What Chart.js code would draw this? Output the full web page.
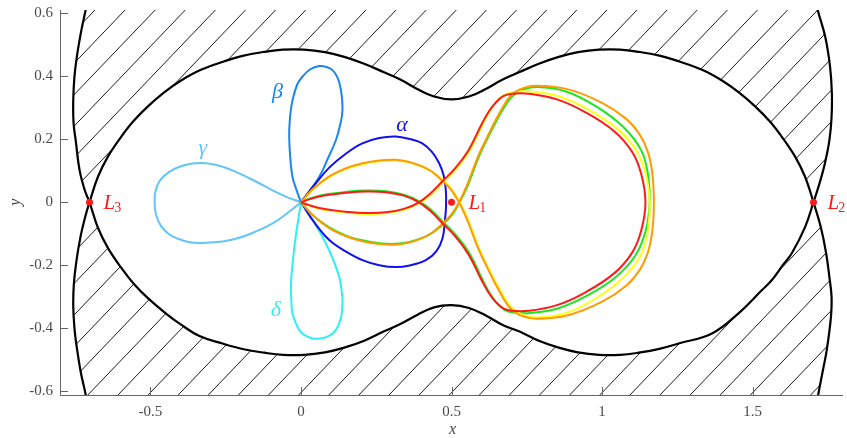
<!DOCTYPE html>
<html>
<head>
<meta charset="utf-8">
<script src="https://cdn.jsdelivr.net/npm/chart.js@4.4.0/dist/chart.umd.min.js"></script>
<style>
  html, body { margin: 0; padding: 0; background: #fff; }
  #wrap { width: 847px; height: 438px; }
</style>
</head>
<body>
<div id="wrap"><canvas id="hill"></canvas></div>
<script>
// axis ticks
const xTicks = [-0.5, 0, 0.5, 1, 1.5];
const yTicks = [-0.6, -0.4, -0.2, 0, 0.2, 0.4, 0.6];

// zero-velocity curve, inner part (L3 -> L2)
const innerUpper = [[-0.702,0],[-0.674,0.081],[-0.641,0.145],[-0.597,0.208],[-0.558,0.256],[-0.509,0.304],[-0.453,0.350],[-0.398,0.387],[-0.332,0.421],[-0.254,0.448],[-0.19,0.466],[-0.122,0.478],[-0.06,0.485],[0.01,0.485],[0.08,0.477],[0.144,0.462],[0.21,0.44],[0.276,0.413],[0.33,0.39],[0.386,0.36],[0.442,0.336],[0.5,0.327],[0.558,0.336],[0.614,0.36],[0.67,0.39],[0.724,0.413],[0.79,0.44],[0.856,0.462],[0.92,0.477],[0.99,0.485],[1.06,0.485],[1.122,0.478],[1.19,0.466],[1.254,0.448],[1.332,0.421],[1.398,0.387],[1.453,0.35],[1.509,0.304],[1.558,0.256],[1.597,0.208],[1.641,0.145],[1.674,0.081],[1.702,0]];
const innerLower = [[-0.702,0],[-0.674,-0.081],[-0.641,-0.145],[-0.597,-0.208],[-0.556,-0.258],[-0.509,-0.304],[-0.450,-0.352],[-0.398,-0.389],[-0.337,-0.425],[-0.26,-0.449],[-0.19,-0.467],[-0.122,-0.478],[-0.06,-0.485],[0.01,-0.485],[0.08,-0.477],[0.144,-0.462],[0.21,-0.44],[0.276,-0.41],[0.33,-0.387],[0.386,-0.358],[0.442,-0.334],[0.5,-0.327],[0.558,-0.336],[0.614,-0.36],[0.67,-0.39],[0.724,-0.41],[0.79,-0.44],[0.856,-0.462],[0.92,-0.477],[0.99,-0.485],[1.06,-0.485],[1.122,-0.478],[1.19,-0.466],[1.254,-0.449],[1.365,-0.417],[1.453,-0.353],[1.531,-0.279],[1.564,-0.247],[1.600,-0.2],[1.630,-0.162],[1.674,-0.079],[1.702,0]];

// zero-velocity curve, outer part (from L3 / L2 out past the frame)
const outerLeftTop = [[-0.702,0],[-0.718,0.039],[-0.735,0.102],[-0.748,0.198],[-0.755,0.252],[-0.756,0.325],[-0.752,0.399],[-0.744,0.463],[-0.729,0.547],[-0.715,0.611],[-0.711,0.635]];
const outerLeftBottom = [[-0.702,0],[-0.716,-0.045],[-0.732,-0.11],[-0.746,-0.19],[-0.754,-0.26],[-0.756,-0.33],[-0.752,-0.4],[-0.744,-0.463],[-0.731,-0.54],[-0.715,-0.61],[-0.711,-0.635]];
const outerRightTop = [[1.702,0],[1.722,0.06],[1.74,0.124],[1.755,0.198],[1.762,0.27],[1.763,0.347],[1.757,0.431],[1.741,0.526],[1.716,0.611],[1.712,0.635]];
const outerRightBottom = [[1.702,0],[1.726,-0.078],[1.744,-0.162],[1.756,-0.247],[1.762,-0.3],[1.76,-0.364],[1.746,-0.47],[1.732,-0.54],[1.718,-0.61],[1.714,-0.635]];

// petal orbits through the first primary
const orbitAlpha = [[0,0],[0.045,0.055],[0.094,0.11],[0.15,0.155],[0.204,0.187],[0.26,0.204],[0.315,0.209],[0.365,0.2],[0.403,0.187],[0.435,0.16],[0.459,0.124],[0.474,0.085],[0.481,0.04],[0.482,-0.01],[0.478,-0.06],[0.47,-0.115],[0.45,-0.155],[0.415,-0.184],[0.365,-0.2],[0.315,-0.206],[0.26,-0.2],[0.204,-0.184],[0.15,-0.157],[0.094,-0.12],[0.045,-0.065],[0,0]];
const orbitBeta = [[0,0],[-0.015,0.04],[-0.028,0.081],[-0.036,0.15],[-0.039,0.219],[-0.035,0.28],[-0.028,0.324],[-0.012,0.375],[0.005,0.399],[0.03,0.422],[0.061,0.433],[0.085,0.43],[0.105,0.42],[0.122,0.395],[0.133,0.356],[0.138,0.292],[0.13,0.245],[0.116,0.197],[0.09,0.14],[0.061,0.081],[0.03,0.038],[0,0]];
const orbitGamma = [[0,0],[-0.05,0.018],[-0.094,0.038],[-0.15,0.066],[-0.205,0.092],[-0.26,0.113],[-0.315,0.124],[-0.36,0.123],[-0.403,0.113],[-0.44,0.095],[-0.469,0.068],[-0.483,0.035],[-0.486,0],[-0.481,-0.04],[-0.465,-0.075],[-0.44,-0.1],[-0.415,-0.113],[-0.37,-0.127],[-0.315,-0.129],[-0.26,-0.125],[-0.205,-0.113],[-0.15,-0.093],[-0.094,-0.067],[-0.05,-0.038],[0,0]];
const orbitDelta = [[0,0],[-0.008,-0.05],[-0.016,-0.099],[-0.026,-0.18],[-0.033,-0.258],[-0.032,-0.31],[-0.028,-0.354],[-0.012,-0.395],[0.005,-0.418],[0.035,-0.432],[0.066,-0.433],[0.095,-0.424],[0.116,-0.406],[0.132,-0.37],[0.138,-0.321],[0.135,-0.28],[0.127,-0.237],[0.108,-0.185],[0.083,-0.131],[0.045,-0.065],[0,0]];

// orbits passing the L1 neck
const orbitRed = [[0,0],[0.03,0.01],[0.061,0.018],[0.105,0.025],[0.149,0.03],[0.215,0.034],[0.282,0.032],[0.342,0.021],[0.392,0],[0.43,-0.028],[0.465,-0.062],[0.514,-0.11],[0.558,-0.168],[0.6,-0.248],[0.625,-0.29],[0.648,-0.318],[0.672,-0.337],[0.7,-0.345],[0.757,-0.345],[0.85,-0.327],[0.945,-0.286],[1.04,-0.226],[1.1,-0.16],[1.13,-0.09],[1.144,0],[1.13,0.09],[1.1,0.16],[1.04,0.226],[0.945,0.286],[0.85,0.327],[0.757,0.345],[0.7,0.345],[0.672,0.337],[0.648,0.318],[0.625,0.29],[0.6,0.248],[0.558,0.168],[0.514,0.11],[0.465,0.062],[0.43,0.028],[0.392,0],[0.342,-0.021],[0.282,-0.032],[0.215,-0.034],[0.149,-0.03],[0.105,-0.025],[0.061,-0.018],[0.03,-0.01],[0,0]];
const orbitOrange = [[0,0],[0.04,0.042],[0.094,0.082],[0.15,0.108],[0.204,0.124],[0.26,0.133],[0.315,0.135],[0.36,0.128],[0.403,0.114],[0.435,0.097],[0.462,0.075],[0.5,0.038],[0.525,0],[0.545,-0.04],[0.56,-0.075],[0.59,-0.15],[0.62,-0.21],[0.647,-0.262],[0.672,-0.305],[0.695,-0.337],[0.725,-0.358],[0.78,-0.37],[0.89,-0.358],[1,-0.316],[1.08,-0.265],[1.125,-0.215],[1.152,-0.16],[1.167,-0.09],[1.172,0],[1.167,0.09],[1.152,0.16],[1.125,0.215],[1.08,0.265],[1,0.316],[0.89,0.358],[0.78,0.37],[0.725,0.358],[0.695,0.337],[0.672,0.305],[0.647,0.262],[0.62,0.21],[0.59,0.15],[0.56,0.075],[0.545,0.04],[0.525,0],[0.5,-0.038],[0.462,-0.075],[0.435,-0.097],[0.403,-0.114],[0.36,-0.128],[0.315,-0.135],[0.26,-0.133],[0.204,-0.124],[0.15,-0.108],[0.094,-0.082],[0.04,-0.042],[0,0]];
const orbitGreen = [[0,0],[0.03,0.012],[0.061,0.021],[0.105,0.028],[0.149,0.033],[0.215,0.037],[0.282,0.035],[0.342,0.024],[0.395,0.002],[0.434,-0.026],[0.469,-0.06],[0.518,-0.108],[0.562,-0.166],[0.604,-0.248],[0.629,-0.292],[0.652,-0.322],[0.676,-0.342],[0.704,-0.35],[0.76,-0.352],[0.855,-0.337],[0.95,-0.297],[1.045,-0.238],[1.11,-0.17],[1.145,-0.09],[1.158,0],[1.152,0.09],[1.13,0.165],[1.07,0.24],[0.98,0.305],[0.88,0.352],[0.785,0.366],[0.73,0.355],[0.698,0.333],[0.675,0.302],[0.65,0.26],[0.623,0.21],[0.593,0.15],[0.563,0.075],[0.548,0.04],[0.527,0],[0.502,-0.04],[0.464,-0.077],[0.436,-0.097],[0.403,-0.113],[0.36,-0.126],[0.315,-0.132],[0.26,-0.13],[0.204,-0.121],[0.15,-0.106],[0.094,-0.08],[0.04,-0.041],[0,0]];
const orbitYellow = [[0,0],[0.03,-0.012],[0.061,-0.021],[0.105,-0.028],[0.149,-0.033],[0.215,-0.037],[0.282,-0.035],[0.342,-0.024],[0.395,-0.002],[0.434,0.026],[0.469,0.06],[0.518,0.108],[0.562,0.166],[0.604,0.248],[0.629,0.292],[0.652,0.322],[0.676,0.342],[0.704,0.35],[0.76,0.352],[0.855,0.337],[0.95,0.297],[1.045,0.238],[1.11,0.17],[1.145,0.09],[1.158,0],[1.152,-0.09],[1.13,-0.165],[1.07,-0.24],[0.98,-0.305],[0.88,-0.352],[0.785,-0.366],[0.73,-0.355],[0.698,-0.333],[0.675,-0.302],[0.65,-0.26],[0.623,-0.21],[0.593,-0.15],[0.563,-0.075],[0.548,-0.04],[0.527,0],[0.502,0.04],[0.464,0.077],[0.436,0.097],[0.403,0.113],[0.36,0.126],[0.315,0.132],[0.26,0.13],[0.204,0.121],[0.15,0.106],[0.094,0.08],[0.04,0.041],[0,0]];

// Lagrange points
const lagrangeNames = ['1', '2', '3'];
const lagrangeX = [0.5, 1.702, -0.702];
const lagrangeY = [0, 0, 0];

const pts = a => a.map(([x, y]) => ({x, y}));
const rev = a => a.slice().reverse();

// the two smooth branches crossing at L2 and L3
const branchA = [...rev(outerLeftTop), ...innerLower.slice(1), ...outerRightTop.slice(1)];
const branchB = [...rev(outerLeftBottom), ...innerUpper.slice(1), ...outerRightBottom.slice(1)];
// forbidden regions (closed above / below the frame)
const forbiddenTop = [...rev(outerLeftTop), ...innerUpper.slice(1), ...outerRightTop.slice(1)];
const forbiddenBottom = [...rev(outerLeftBottom), ...innerLower.slice(1), ...outerRightBottom.slice(1)];

const serif = '"Liberation Serif", "DejaVu Serif", serif';

function curve(data, color, width) {
  return {data: pts(data), borderColor: color, borderWidth: width, showLine: true,
          pointRadius: 0, tension: 0.4, fill: false, clip: 0};
}
function region(data) {
  return {data: pts(data), hatch: true, borderColor: 'rgba(0,0,0,0)', borderWidth: 0,
          showLine: true, pointRadius: 0, tension: 0.4, fill: false};
}

const orbitLabels = [
  {text: 'α', x: 0.336, y: 0.244, color: '#1010ee'},
  {text: 'β', x: -0.078, y: 0.351, color: '#1a86f2'},
  {text: 'γ', x: -0.326, y: 0.171, color: '#62c6fa'},
  {text: 'δ', x: -0.083, y: -0.343, color: '#2ef0f4'}
];
const lagrangeLabelDx = [17, 14, 14];

const hatchStep = 0.1, hatchOffset = 0.005;

const decor = {
  id: 'decor',
  beforeDatasetsDraw(chart) {
    const {ctx, chartArea: a, scales: {x, y}} = chart;
    ctx.save();
    ctx.beginPath();
    ctx.rect(a.left, a.top, a.right - a.left, a.bottom - a.top);
    ctx.clip();
    chart.data.datasets.forEach((ds, i) => {
      if (!ds.hatch) return;
      const line = chart.getDatasetMeta(i).dataset;
      line.updateControlPoints(a, 'x');
      ctx.save();
      ctx.beginPath();
      line.path(ctx);
      ctx.closePath();
      ctx.clip();
      ctx.beginPath();
      const y0 = y.min - 0.05, y1 = y.max + 0.05;
      for (let k = -40; k <= 40; k++) {
        const c = hatchOffset + k * hatchStep;
        ctx.moveTo(x.getPixelForValue(c + y0), y.getPixelForValue(y0));
        ctx.lineTo(x.getPixelForValue(c + y1), y.getPixelForValue(y1));
      }
      ctx.strokeStyle = '#000';
      ctx.lineWidth = 0.9;
      ctx.stroke();
      ctx.restore();
    });
    ctx.restore();
  },
  afterDatasetsDraw(chart) {
    const {ctx, chartArea: a, scales: {x, y}} = chart;
    ctx.save();
    ctx.textBaseline = 'middle';
    ctx.textAlign = 'center';
    ctx.font = 'italic 22px ' + serif;
    orbitLabels.forEach(l => {
      ctx.fillStyle = l.color;
      ctx.fillText(l.text, x.getPixelForValue(l.x), y.getPixelForValue(l.y));
    });
    ctx.fillStyle = '#ff1a1a';
    ctx.textAlign = 'left';
    ctx.textBaseline = 'alphabetic';
    lagrangeX.forEach((lx, i) => {
      const px = x.getPixelForValue(lx) + lagrangeLabelDx[i];
      const py = y.getPixelForValue(lagrangeY[i]) + 7;
      ctx.font = 'italic 21px ' + serif;
      ctx.fillText('L', px, py);
      const w = ctx.measureText('L').width;
      ctx.font = '14px ' + serif;
      ctx.fillText(lagrangeNames[i], px + w - 1, py + 3);
    });

    // axes with inward ticks
    ctx.strokeStyle = '#666';
    ctx.lineWidth = 1;
    ctx.beginPath();
    ctx.moveTo(a.left + 0.5, a.top);
    ctx.lineTo(a.left + 0.5, a.bottom + 0.5);
    ctx.lineTo(a.right, a.bottom + 0.5);
    xTicks.forEach(v => {
      const px = Math.round(x.getPixelForValue(v)) + 0.5;
      ctx.moveTo(px, a.bottom);
      ctx.lineTo(px, a.bottom - 8);
    });
    yTicks.forEach(v => {
      const py = Math.round(y.getPixelForValue(v)) + 0.5;
      ctx.moveTo(a.left, py);
      ctx.lineTo(a.left + 8, py);
    });
    ctx.stroke();

    // axis titles
    ctx.fillStyle = '#444';
    ctx.font = 'italic 16px ' + serif;
    ctx.textAlign = 'center';
    ctx.textBaseline = 'middle';
    ctx.fillText('x', (a.left + a.right) / 2 + 1, 430);
    ctx.translate(16, y.getPixelForValue(0));
    ctx.rotate(-Math.PI / 2);
    ctx.fillText('y', 0, 0);
    ctx.restore();
  }
};

const tickFont = {family: serif, size: 15};

// datasets listed top-most first (Chart.js paints index 0 last)
new Chart(document.getElementById('hill'), {
  type: 'scatter',
  data: {
    datasets: [
      {
        data: lagrangeX.map((v, i) => ({x: v, y: lagrangeY[i]})),
        pointRadius: 3.5, pointBackgroundColor: '#ff1a1a', pointBorderWidth: 0,
        showLine: false, clip: false
      },
      curve(orbitRed, '#ff1a1a', 2),
      curve(orbitOrange, '#ff9a00', 2),
      curve(orbitYellow, '#ffff1a', 2),
      curve(orbitGreen, '#1ee61e', 2),
      curve(orbitAlpha, '#1010ee', 2),
      curve(orbitBeta, '#1a86f2', 2),
      curve(orbitGamma, '#62c6fa', 2),
      curve(orbitDelta, '#2ef0f4', 2),
      curve(branchA, '#000', 2.2),
      curve(branchB, '#000', 2.2),
      region(forbiddenTop),
      region(forbiddenBottom)
    ]
  },
  options: {
    responsive: true,
    maintainAspectRatio: false,
    animation: false,
    layout: {padding: {top: 10, right: 2, left: 0, bottom: 0}},
    elements: {line: {capBezierPoints: false}},
    plugins: {legend: {display: false}, tooltip: {enabled: false}},
    scales: {
      x: {
        type: 'linear', min: -0.8, max: 1.8,
        afterBuildTicks: s => { s.ticks = xTicks.map(v => ({value: v})); },
        afterFit: s => { s.height = 43; s.paddingLeft = 0; s.paddingRight = 0; },
        grid: {display: false, drawTicks: false},
        border: {display: false},
        ticks: {font: tickFont, color: '#4a4a4a', padding: 8, maxRotation: 0, callback: v => String(v)}
      },
      y: {
        type: 'linear', min: -0.6125, max: 0.611,
        afterBuildTicks: s => { s.ticks = yTicks.map(v => ({value: v})); },
        afterFit: s => { s.width = 60; s.paddingTop = 0; s.paddingBottom = 0; },
        grid: {display: false, drawTicks: false},
        border: {display: false},
        ticks: {font: tickFont, color: '#4a4a4a', padding: 7, callback: v => String(v)}
      }
    }
  },
  plugins: [decor]
});
</script>
</body>
</html>
